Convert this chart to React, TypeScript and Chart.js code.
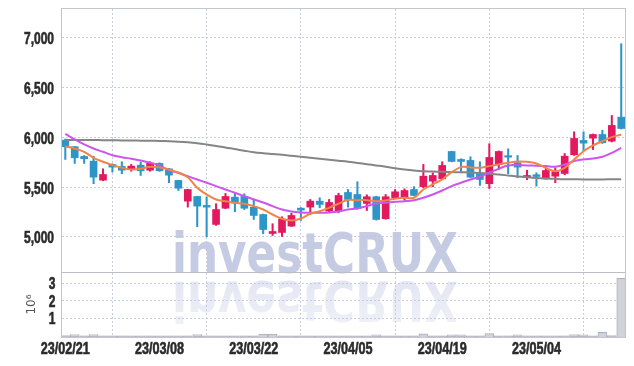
import React, { useEffect, useRef } from "react";
import { Chart, registerables } from "chart.js";

Chart.register(...registerables);

const dates = [
  "23/02/21", "23/02/22", "23/02/23", "23/02/24", "23/02/27", "23/02/28",
  "23/03/02", "23/03/03", "23/03/06", "23/03/07", "23/03/08", "23/03/09", "23/03/10",
  "23/03/13", "23/03/14", "23/03/15", "23/03/16", "23/03/17", "23/03/20", "23/03/21",
  "23/03/22", "23/03/23", "23/03/24", "23/03/27", "23/03/28", "23/03/29", "23/03/30",
  "23/03/31", "23/04/03", "23/04/04", "23/04/05", "23/04/06", "23/04/07", "23/04/10",
  "23/04/11", "23/04/12", "23/04/13", "23/04/14", "23/04/17", "23/04/18", "23/04/19",
  "23/04/20", "23/04/21", "23/04/24", "23/04/25", "23/04/26", "23/04/27", "23/04/28",
  "23/05/02", "23/05/03", "23/05/04", "23/05/08", "23/05/09", "23/05/10", "23/05/11",
  "23/05/12", "23/05/15", "23/05/16", "23/05/17", "23/05/18",
];

const opens = [
  5973, 5907, 5809, 5762, 5571, 5729, 5709, 5681, 5722, 5671,
  5739, 5685, 5568, 5360, 5407, 5317, 5126, 5289, 5400, 5407,
  5300, 5226, 5035, 5045, 5109, 5290, 5300, 5360, 5260, 5260,
  5447, 5427, 5337, 5404, 5183, 5394, 5394, 5477, 5505, 5561,
  5585, 5859, 5779, 5769, 5638, 5535, 5729, 5812, 5746, 5601,
  5625, 5585, 5611, 5638, 5826, 5970, 5993, 6030, 5963, 6204,
];
const highs = [
  5985, 5910, 5819, 5812, 5685, 5735, 5756, 5729, 5752, 5756,
  5745, 5690, 5570, 5480, 5410, 5404, 5334, 5437, 5437, 5434,
  5382, 5230, 5133, 5203, 5239, 5295, 5377, 5394, 5377, 5440,
  5477, 5555, 5424, 5410, 5427, 5477, 5484, 5505, 5729, 5645,
  5756, 5862, 5786, 5806, 5756, 5937, 5865, 5886, 5819, 5671,
  5645, 5695, 5695, 5839, 6057, 6057, 6035, 6073, 6221, 6942,
];
const lows = [
  5779, 5739, 5739, 5535, 5565, 5651, 5635, 5661, 5618, 5661,
  5660, 5545, 5467, 5300, 5103, 5002, 5116, 5285, 5253, 5276,
  5176, 5032, 5015, 5005, 5105, 5166, 5226, 5293, 5243, 5243,
  5300, 5280, 5266, 5170, 5178, 5390, 5370, 5415, 5494, 5505,
  5580, 5755, 5645, 5598, 5518, 5487, 5678, 5635, 5595, 5575,
  5511, 5580, 5545, 5625, 5820, 5869, 5879, 5940, 5955, 6085,
];
const closes = [
  5907, 5796, 5786, 5601, 5628, 5702, 5671, 5712, 5665, 5742,
  5665, 5621, 5490, 5477, 5310, 5300, 5276, 5407, 5340, 5289,
  5216, 5075, 5055, 5179, 5216, 5270, 5360, 5327, 5347, 5417,
  5377, 5286, 5404, 5176, 5404, 5454, 5467, 5417, 5611, 5618,
  5719, 5759, 5759, 5601, 5578, 5799, 5859, 5802, 5702, 5618,
  5608, 5668, 5655, 5812, 5990, 5943, 6030, 5947, 6121, 6090,
];

// volume in millions of shares (axis unit 10^6)
const volumes = [
  0.02, 0.07, 0.01, 0.07, 0.01, 0.01, 0.01, 0.01, 0.01, 0.01,
  0.01, 0.01, 0.01, 0.01, 0.07, 0.01, 0.01, 0.01, 0.01, 0.01,
  0.01, 0.08, 0.08, 0.01, 0.01, 0.01, 0.01, 0.01, 0.01, 0.01,
  0.01, 0.01, 0.01, 0.06, 0.01, 0.01, 0.01, 0.01, 0.1, 0.01,
  0.01, 0.06, 0.06, 0.01, 0.01, 0.12, 0.01, 0.01, 0.06, 0.01,
  0.01, 0.01, 0.01, 0.01, 0.07, 0.06, 0.01, 0.18, 0.02, 3.27,
];

const ma5 = [
  5910, 5889, 5856, 5796, 5756, 5722, 5695, 5678, 5685, 5706,
  5699, 5678, 5645, 5601, 5494, 5427, 5377, 5360, 5344, 5334,
  5310, 5276, 5226, 5183, 5166, 5186, 5233, 5259, 5293, 5334,
  5372, 5370, 5370, 5360, 5367, 5384, 5394, 5394, 5477, 5528,
  5578, 5651, 5702, 5699, 5695, 5712, 5729, 5746, 5759, 5756,
  5739, 5695, 5661, 5695, 5779, 5862, 5920, 5963, 6003, 6030,
];
const ma20 = [
  6035, 5980, 5930, 5889, 5856, 5822, 5802, 5786, 5769, 5746,
  5719, 5671, 5645, 5611, 5578, 5545, 5511, 5477, 5444, 5410,
  5377, 5347, 5310, 5276, 5256, 5246, 5243, 5243, 5246, 5256,
  5276, 5286, 5310, 5337, 5344, 5354, 5360, 5370, 5394, 5427,
  5467, 5511, 5545, 5578, 5605, 5645, 5685, 5719, 5722, 5719,
  5716, 5712, 5706, 5729, 5762, 5779, 5789, 5806, 5846, 5896,
];
const ma60 = [
  5975, 5975, 5975, 5974, 5973, 5972, 5970, 5970, 5968, 5967,
  5965, 5962, 5958, 5952, 5943, 5930, 5915, 5900, 5883, 5867,
  5852, 5842, 5834, 5826, 5816, 5806, 5796, 5786, 5776, 5766,
  5756, 5744, 5732, 5719, 5706, 5691, 5678, 5668, 5661, 5658,
  5655, 5653, 5650, 5648, 5643, 5636, 5628, 5618, 5608, 5600,
  5593, 5588, 5584, 5581, 5580, 5578, 5578, 5578, 5580, 5581,
];

const priceTicks = [5000, 5500, 6000, 6500, 7000];
const volumeTicks = [1, 2, 3];
const labelEvery = 10;

const UP = "#e3195f";
const DOWN = "#2e95c8";
const GRID = "#c9cce0";
const TEXT = "#2b2b2b";
const LABEL_FONT = "bold 16px 'Liberation Sans', Arial, sans-serif";

const watermarkPlugin = {
  id: "watermark",
  beforeDatasetsDraw(chart: any) {
    const ctx = chart.ctx as CanvasRenderingContext2D;
    const text = "investCRUX";
    const left = 172;
    const base = 272;
    const targetW = 286;
    ctx.save();
    ctx.font = "bold 56px 'DejaVu Sans'";
    const w = ctx.measureText(text).width;
    const sx = targetW / w;
    ctx.textBaseline = "alphabetic";
    ctx.translate(left, base);
    ctx.scale(sx, 1);
    ctx.fillStyle = "rgba(192,199,225,0.92)";
    ctx.fillText(text, 0, 0);
    ctx.restore();

    ctx.save();
    ctx.font = "bold 56px 'DejaVu Sans'";
    ctx.textBaseline = "alphabetic";
    ctx.translate(left, base + 10);
    ctx.scale(sx, -1);
    const g = ctx.createLinearGradient(0, 0, 0, -45);
    g.addColorStop(0, "rgba(200,206,230,0.5)");
    g.addColorStop(1, "rgba(200,206,230,0.28)");
    ctx.fillStyle = g;
    ctx.fillText(text, 0, 0);
    ctx.restore();
  },
};

const framePlugin = {
  id: "frame",
  afterDatasetsDraw(chart: any) {
    const ctx = chart.ctx as CanvasRenderingContext2D;
    const { left, right, top, bottom } = chart.chartArea;
    const sep = chart.scales.vol.top;
    ctx.save();
    ctx.strokeStyle = "#c5c5cd";
    ctx.lineWidth = 1;
    ctx.strokeRect(Math.round(left) - 0.5, Math.round(top) - 0.5, Math.round(right - left) + 1, Math.round(bottom - top) + 1);
    ctx.strokeStyle = "#bdbdc6";
    ctx.beginPath();
    ctx.moveTo(left, Math.round(sep) + 0.5);
    ctx.lineTo(right, Math.round(sep) + 0.5);
    ctx.stroke();
    ctx.restore();
  },
};

// Tick labels drawn with a narrowed sans face to match the condensed axis type
const labelPlugin = {
  id: "axisLabels",
  afterDraw(chart: any) {
    const ctx = chart.ctx as CanvasRenderingContext2D;
    const { left, bottom } = chart.chartArea;
    const ys = chart.scales.y;
    const vs = chart.scales.vol;
    const xs = chart.scales.x;
    ctx.save();
    ctx.font = LABEL_FONT;
    ctx.fillStyle = TEXT;
    ctx.strokeStyle = TEXT;
    ctx.lineWidth = 0.6;
    ctx.textBaseline = "alphabetic";
    const syY = 30 / ctx.measureText("7,000").width;
    const syX = 49 / ctx.measureText("23/02/21").width;
    const draw = (t: string, x: number, y: number, align: CanvasTextAlign, s: number) => {
      ctx.save();
      ctx.translate(x, y);
      ctx.scale(s, 1);
      ctx.textAlign = align;
      ctx.fillText(t, 0, 0);
      ctx.strokeText(t, 0, 0);
      ctx.restore();
    };
    priceTicks.forEach((v) => {
      draw(v.toLocaleString("en-US"), left - 8, ys.getPixelForValue(v) + 6.5, "right", syY);
    });
    volumeTicks.forEach((v) => {
      draw(String(v), left - 6.5, vs.getPixelForValue(v) + 6, "right", syY);
    });
    dates.forEach((d, i) => {
      if (i % labelEvery === 0) draw(d, xs.getPixelForValue(i), bottom + 17, "center", syX);
    });
    ctx.restore();
  },
};

export default function App() {
  const ref = useRef<HTMLCanvasElement | null>(null);

  useEffect(() => {
    document.body.style.margin = "0";
    document.body.style.background = "#ffffff";
    const canvas = ref.current;
    if (!canvas) return;

    const idx = dates.map((_, i) => i);
    const colors = idx.map((i) => (closes[i] >= opens[i] ? UP : DOWN));
    const xTicks = idx.filter((i) => i % labelEvery === 0);

    const chart = new Chart(canvas, {
      type: "bar",
      data: {
        datasets: [
          {
            type: "line",
            label: "MA5",
            data: idx.map((i) => ({ x: i, y: ma5[i] })),
            borderColor: "#f08448",
            borderWidth: 2,
            pointRadius: 0,
            tension: 0.35,
            yAxisID: "y",
            xAxisID: "x",
            order: 1,
          },
          {
            type: "line",
            label: "MA20",
            data: idx.map((i) => ({ x: i, y: ma20[i] })),
            borderColor: "#cb55ee",
            borderWidth: 2,
            pointRadius: 0,
            tension: 0.35,
            yAxisID: "y",
            xAxisID: "x",
            order: 1,
          },
          {
            type: "line",
            label: "MA60",
            data: idx.map((i) => ({ x: i, y: ma60[i] })),
            borderColor: "#858585",
            borderWidth: 2,
            pointRadius: 0,
            tension: 0.35,
            yAxisID: "y",
            xAxisID: "x",
            order: 1,
          },
          {
            type: "bar",
            label: "wick",
            data: idx.map((i) => ({ x: i, y: [lows[i], highs[i]] })),
            backgroundColor: colors,
            borderWidth: 0,
            barThickness: 1.4,
            grouped: false,
            yAxisID: "y",
            xAxisID: "x",
            order: 3,
          } as any,
          {
            type: "bar",
            label: "body",
            data: idx.map((i) => ({ x: i, y: [opens[i], closes[i]] })),
            backgroundColor: colors,
            borderWidth: 0,
            barThickness: 7,
            minBarLength: 1.5,
            grouped: false,
            yAxisID: "y",
            xAxisID: "x",
            order: 2,
          } as any,
          {
            type: "bar",
            label: "volume",
            data: idx.map((i) => ({ x: i, y: [-0.08, volumes[i]] })),
            backgroundColor: "rgba(208,208,216,0.95)",
            borderColor: "rgba(178,178,192,1)",
            borderWidth: 1,
            borderSkipped: "bottom",
            barThickness: 9,
            grouped: false,
            yAxisID: "vol",
            xAxisID: "x",
            order: 4,
          } as any,
        ],
      },
      options: {
        responsive: false,
        maintainAspectRatio: false,
        animation: false,
        events: [],
        layout: { padding: { left: 0, right: 9, top: 9, bottom: 0 } },
        plugins: {
          legend: { display: false },
          tooltip: { enabled: false },
        },
        scales: {
          x: {
            type: "linear",
            min: -0.35,
            max: 59.4,
            offset: false,
            afterBuildTicks: (s: any) => {
              s.ticks = xTicks.map((v) => ({ value: v }));
            },
            afterFit: (s: any) => {
              s.height = 29;
              s.paddingLeft = 0;
              s.paddingRight = 0;
            },
            ticks: { display: false, autoSkip: false, maxRotation: 0 },
            grid: { color: GRID, drawTicks: false, lineWidth: 1 },
            border: { display: false, dash: [2, 2] },
          },
          y: {
            type: "linear",
            position: "left",
            stack: "panels",
            stackWeight: 263,
            weight: 1,
            min: 4648,
            max: 7291,
            afterBuildTicks: (s: any) => {
              s.ticks = priceTicks.map((v) => ({ value: v }));
            },
            afterFit: (s: any) => {
              s.width = 62;
              s.paddingTop = 0;
              s.paddingBottom = 0;
            },
            ticks: { display: false },
            grid: { color: GRID, drawTicks: false, lineWidth: 1 },
            border: { display: false, dash: [2, 2] },
          },
          vol: {
            type: "linear",
            position: "left",
            stack: "panels",
            stackWeight: 65,
            weight: 0,
            min: -0.08,
            max: 3.63,
            afterBuildTicks: (s: any) => {
              s.ticks = volumeTicks.map((v) => ({ value: v }));
            },
            afterFit: (s: any) => {
              s.width = 62;
              s.paddingTop = 0;
              s.paddingBottom = 0;
            },
            ticks: { display: false },
            title: {
              display: true,
              text: "10\u2076",
              color: "#555555",
              font: { family: "'DejaVu Sans'", size: 12 },
              padding: { top: 25, bottom: 0 },
            },
            grid: { color: GRID, drawTicks: false, lineWidth: 1 },
            border: { display: false, dash: [2, 2] },
          },
        } as any,
      },
      plugins: [watermarkPlugin, framePlugin, labelPlugin],
    });

    return () => chart.destroy();
  }, []);

  return (
    <div style={{ position: "absolute", left: 0, top: 0, width: 634, height: 366, background: "#fff" }}>
      <canvas ref={ref} width={634} height={366} style={{ display: "block" }} />
    </div>
  );
}
